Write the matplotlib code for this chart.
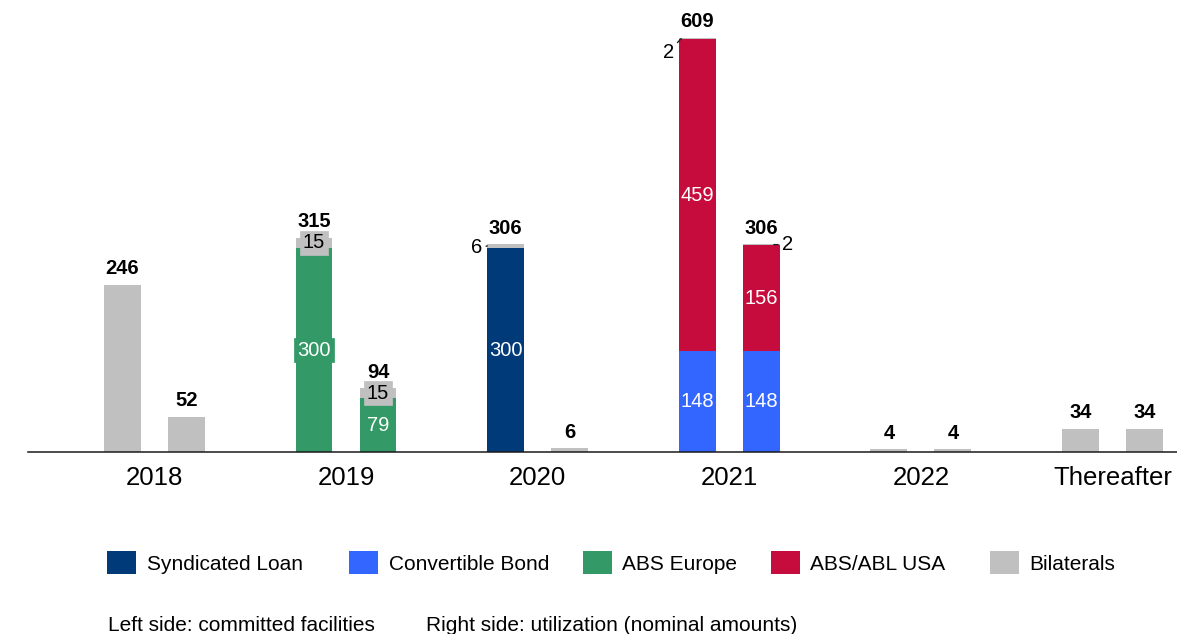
import matplotlib
matplotlib.use('Agg')
import matplotlib.pyplot as plt
from matplotlib.patches import Rectangle
import numpy as np

plt.rcParams['font.family'] = ['Liberation Sans', 'DejaVu Sans']

# ---------------- data ----------------
categories = ['2018', '2019', '2020', '2021', '2022', 'Thereafter']
series_names = ['Syndicated Loan', 'Convertible Bond', 'ABS Europe', 'ABS/ABL USA', 'Bilaterals']
series_colors = ['#003A78', '#3366FF', '#339966', '#C60C3C', '#C0C0C0']

# Left side: committed facilities
committed_syndicated = [0, 0, 300, 0, 0, 0]
committed_convertible = [0, 0, 0, 148, 0, 0]
committed_abs_europe = [0, 300, 0, 0, 0, 0]
committed_abs_usa = [0, 0, 0, 459, 0, 0]
committed_bilaterals = [246, 15, 6, 2, 4, 34]

# Right side: utilization
used_syndicated = [0, 0, 0, 0, 0, 0]
used_convertible = [0, 0, 0, 148, 0, 0]
used_abs_europe = [0, 79, 0, 0, 0, 0]
used_abs_usa = [0, 0, 0, 156, 0, 0]
used_bilaterals = [52, 15, 6, 2, 4, 34]

committed = [committed_syndicated, committed_convertible, committed_abs_europe,
             committed_abs_usa, committed_bilaterals]
used = [used_syndicated, used_convertible, used_abs_europe, used_abs_usa, used_bilaterals]

# ---------------- layout ----------------
W, H = 1177, 634
fig = plt.figure(figsize=(W / 100, H / 100), dpi=100)
ax = fig.add_axes([28 / W, (H - 452) / H, 1 - 28 / W, 452 / H])
px_per_unit = 0.68
ax.set_ylim(0, 452 / px_per_unit)
ax.set_xlim(-0.66, 5.337)

PT = 0.72  # points per pixel
x = np.arange(len(categories))
offset = 0.167
width = 0.1915

text_colors = ['white', 'white', 'white', 'white', 'black']
boxed = [False, False, True, False, True]

# callouts for tiny segments: (side, category index) -> (dx px, dy px (down), xy x-shift)
callouts = {
    ('L', 2): (-11, 2, -width / 2),
    ('L', 3): (-13, 14, -width / 2 + 0.012),
    ('R', 3): (14, 0, width / 2 - 0.03),
}

for side, data, pos in [('L', committed, x - offset), ('R', used, x + offset)]:
    bottom = np.zeros(len(categories))
    arr = np.array(data, dtype=float)
    nseg = (arr > 0).sum(axis=0)
    for si, vals in enumerate(data):
        vals = np.array(vals, dtype=float)
        ax.bar(pos, vals, width, bottom=bottom, color=series_colors[si], linewidth=0)
        for ci, v in enumerate(vals):
            if v <= 0 or nseg[ci] < 2:
                continue
            yc = bottom[ci] + v / 2
            if v >= 10:
                kw = {}
                if boxed[si]:
                    kw['bbox'] = dict(boxstyle='square,pad=0.14', fc=series_colors[si],
                                      ec=series_colors[si], lw=0.5)
                ax.text(pos[ci], yc, f'{int(v)}', ha='center', va='center',
                        color=text_colors[si], fontsize=14.5, **kw)
            else:
                dx, dy, sx = callouts[(side, ci)]
                ax.annotate(f'{int(v)}', xy=(pos[ci] + sx, yc),
                            xytext=(dx * PT, -dy * PT), textcoords='offset points',
                            ha='center', va='center', fontsize=14.5, color='black',
                            arrowprops=dict(arrowstyle='-', lw=1.0, color='#222222',
                                            shrinkA=1, shrinkB=0))
        bottom = bottom + vals
    for ci, tot in enumerate(bottom):
        ax.annotate(f'{int(tot)}', xy=(pos[ci], tot), xytext=(0, 7.5),
                    textcoords='offset points', ha='center', va='baseline',
                    fontsize=14.5, fontweight='bold', color='black')

ax.set_xticks(x, categories, fontsize=18.5)
ax.tick_params(axis='x', length=0, pad=10)
ax.set_yticks([])
for s in ['top', 'right', 'left']:
    ax.spines[s].set_visible(False)
ax.spines['bottom'].set_color('#1a1a1a')
ax.spines['bottom'].set_linewidth(1.1)

# ---------------- legend ----------------
def fx(px):
    return px / W

def fy(py):
    return 1 - py / H

legend_sq_x = [107, 349, 583, 771, 990]
legend_tx_x = [147, 389, 622, 810, 1029]
for name, c, sx, tx in zip(series_names, series_colors, legend_sq_x, legend_tx_x):
    fig.add_artist(Rectangle((fx(sx), fy(574)), 29 / W, 23 / H,
                             transform=fig.transFigure, facecolor=c, edgecolor='none'))
    fig.text(fx(tx), fy(570), name, va='baseline', ha='left', fontsize=15)

fig.text(fx(108), fy(631), 'Left side: committed facilities', va='baseline', fontsize=15)
fig.text(fx(426), fy(631), 'Right side: utilization (nominal amounts)', va='baseline', fontsize=15)

fig.savefig('out.png', dpi=100)
